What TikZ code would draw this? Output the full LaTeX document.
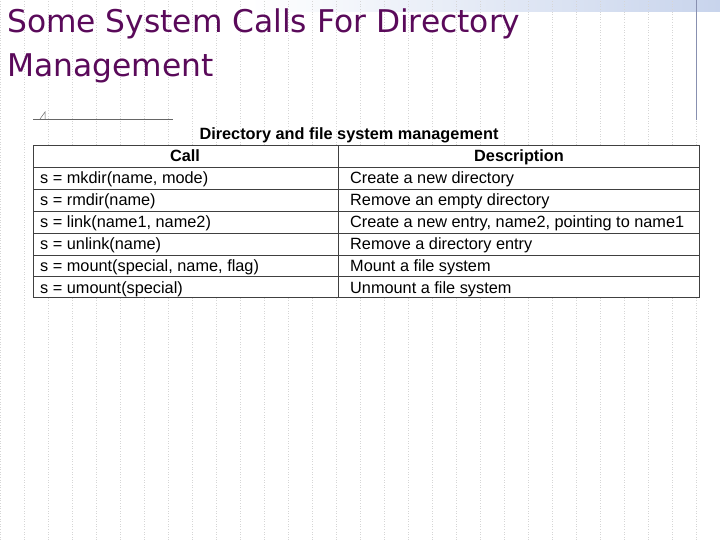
\documentclass[tikz,border=0pt]{standalone}
\usepackage{fontspec}
\setmainfont{Liberation Sans}
\newfontfamily\titlefont{DejaVu Sans}
\definecolor{ttl}{HTML}{5A0A5A}
\definecolor{gridc}{HTML}{D6D6D6}
\definecolor{bandc}{HTML}{C8D4EC}
\definecolor{vline}{HTML}{8890B0}
\begin{document}
\begin{tikzpicture}[x=1pt,y=-1pt,
  cell/.style={anchor=base west,font=\fontsize{16.3}{18}\selectfont,inner sep=0pt},
  head/.style={anchor=base,font=\bfseries\fontsize{16.3}{18}\selectfont,inner sep=0pt},
  rule/.style={draw=black!75,line width=0.7pt}]
\useasboundingbox (0,0) rectangle (720,540);
\fill[white] (0,0) rectangle (720,540);
\shade[left color=white,right color=bandc] (250,0) rectangle (720,12);
\draw[gridc,dotted,line width=0.6pt] (0,0) grid[step=24] (720,540);
\draw[vline,line width=0.8pt] (696,0) -- (696,120);
\node[anchor=north west,align=left,text=ttl,inner sep=0pt,
  font=\titlefont\fontsize{31.3}{44}\selectfont] (title) at (7,9)
  {Some System Calls For Directory\\Management};
\draw[black!60,line width=0.6pt] (33,119) -- (173,119);
\draw[black!60,line width=0.5pt] (40,119) -- (45,112) -- (45,119);
\node[anchor=base,font=\bfseries\fontsize{16.3}{18}\selectfont,inner sep=0pt] (cap) at (349,140) {Directory and file system management};
\fill[white] (33,145) rectangle (699,297);
\draw[rule] (33,145) rectangle (699,297);
\draw[rule] (338,145) -- (338,297);
\foreach \y in {167,189,211,233,255,276} \draw[rule] (33,\y) -- (699,\y);
\node[head] (h1) at (185,162) {Call};
\node[head] (h2) at (519,162) {Description};
\foreach \i/\c/\d in {0/{s = mkdir(name, mode)}/{Create a new directory},
  1/{s = rmdir(name)}/{Remove an empty directory},
  2/{s = link(name1, name2)}/{Create a new entry, name2, pointing to name1},
  3/{s = unlink(name)}/{Remove a directory entry},
  4/{s = mount(special, name, flag)}/{Mount a file system},
  5/{s = umount(special)}/{Unmount a file system}}{
  \node[cell] (c\i) at (40,{184+21.8*\i}) {\c};
  \node[cell] (d\i) at (350,{184+21.8*\i}) {\d};
}
\end{tikzpicture}
\end{document}
